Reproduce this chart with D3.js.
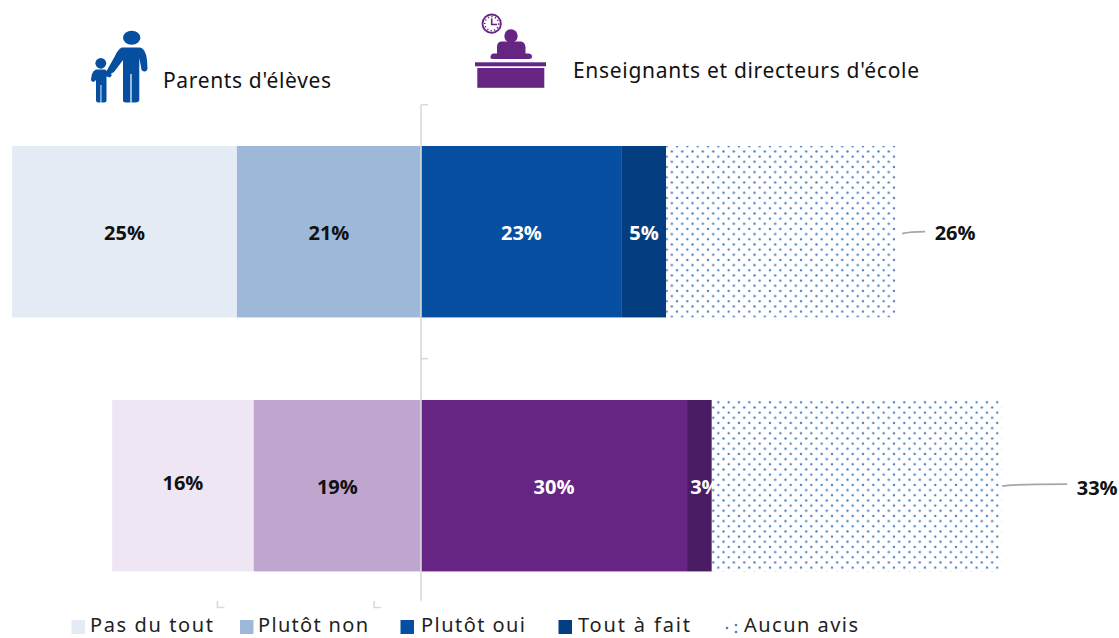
<!DOCTYPE html>
<html lang="fr">
<head>
<meta charset="utf-8">
<script src="https://cdn.jsdelivr.net/npm/d3@7"></script>
<style>
  html, body { margin: 0; padding: 0; background: #fff; overflow: hidden; }
  svg { display: block; font-family: "Noto Sans", "Open Sans", sans-serif; }
</style>
</head>
<body>
<svg id="chart" width="1119" height="638"></svg>
<script>
const rows = ["Parents d'élèves", "Enseignants et directeurs d'école"];
const categories = ["Pas du tout", "Plutôt non", "Plutôt oui", "Tout à fait", "Aucun avis"];
const parentsValues = [25.4, 20.8, 22.7, 5.0, 26.1];
const teachersValues = [16.0, 18.9, 30.06, 2.8, 32.7];
const parentColors = ["#e4ebf4", "#9db8d8", "#054ea0", "#053e80"];
const teacherColors = ["#efe6f3", "#c0a6ce", "#662483", "#4a1c64"];
const legendColors = ["#e4ebf4", "#9db8d8", "#054ea0", "#053e80"];
const cornerMarks = [-23, -5.3];

const width = 1119;
const height = 638;
const DOT = "#2a6ab8";

const svg = d3.select("#chart");
const defs = svg.append("defs");

// dot fill, the phase differs a bit between the two bars
function dotPattern(id, ox, oy) {
  const p = defs.append("pattern")
    .attr("id", id)
    .attr("patternUnits", "userSpaceOnUse")
    .attr("x", ox)
    .attr("y", oy)
    .attr("width", 10.33)
    .attr("height", 10.33);
  [[0, 0], [5.165, 5.165], [10.33, 0], [0, 10.33], [10.33, 10.33]].forEach(c => {
    p.append("circle").attr("cx", c[0]).attr("cy", c[1]).attr("r", 1.2).attr("fill", DOT).attr("opacity", 0.85);
  });
}
dotPattern("dots0", 666.7, 146.3);
dotPattern("dots1", 728.7, 402.3);

const x = d3.scaleLinear().domain([-40, 70]).range([67, 1040.5]);
const y = d3.scaleBand().domain(rows).range([104.7, 612.7]).paddingInner(0.325).paddingOuter(0.1625);

const series = rows.map((row, i) => {
  const values = i === 0 ? parentsValues : teachersValues;
  const colors = i === 0 ? parentColors : teacherColors;
  const start = -(values[0] + values[1]);
  const segs = [];
  let pos = start;
  values.forEach((v, j) => {
    segs.push({ row, i, j, v, x0: pos, x1: pos + v, color: colors[j] });
    pos += v;
  });
  return segs;
});
const segments = series.flat();
const solid = segments.filter(d => d.j < 4);
const dotted = segments.filter(d => d.j === 4);

const g = svg.append("g");

g.selectAll("rect.solid")
  .data(solid)
  .join("rect")
  .attr("class", "solid")
  .attr("x", d => x(d.x0))
  .attr("y", d => y(d.row))
  .attr("width", d => x(d.x1) - x(d.x0))
  .attr("height", y.bandwidth())
  .attr("fill", d => d.color);

// labels inside the bars, nudges only for the ones off centre
const nudge = { "1-0": [0, -2.5], "1-1": [0, 1], "1-2": [0, 1], "1-3": [5.5, 1] };
g.selectAll("text.inside")
  .data(solid)
  .join("text")
  .attr("class", "inside")
  .attr("x", d => (x(d.x0) + x(d.x1)) / 2 + (nudge[d.i + "-" + d.j] || [0, 0])[0])
  .attr("y", d => y(d.row) + y.bandwidth() / 2 + (nudge[d.i + "-" + d.j] || [0, 1])[1] + 7)
  .attr("text-anchor", "middle")
  .attr("fill", d => d.j >= 2 ? "#fff" : "#111")
  .style("font-family", "'Open Sans', sans-serif")
  .style("font-size", "20px")
  .style("font-weight", "bold")
  .text(d => d3.format(".0f")(d.v) + "%");

// white under the dots so the 3% gets cut by the last segment
g.selectAll("rect.blank")
  .data(dotted)
  .join("rect")
  .attr("class", "blank")
  .attr("x", d => x(d.x0))
  .attr("y", d => y(d.row))
  .attr("width", d => x(d.x1) - x(d.x0))
  .attr("height", y.bandwidth())
  .attr("fill", "#fff");

g.selectAll("rect.dotted")
  .data(dotted)
  .join("rect")
  .attr("class", "dotted")
  .attr("x", d => x(d.x0))
  .attr("y", d => y(d.row))
  .attr("width", d => x(d.x1) - x(d.x0))
  .attr("height", y.bandwidth())
  .attr("fill", d => `url(#dots${d.i})`);

// leader lines and outside labels
const leaderLen = [23, 65];
g.selectAll("path.leader")
  .data(dotted)
  .join("path")
  .attr("class", "leader")
  .attr("d", d => {
    const sx = x(d.x1) + (d.i === 0 ? 5 : 1);
    const sy = y(d.row) + y.bandwidth() / 2 + (d.i === 0 ? 2 : 0.5);
    const ex = sx + leaderLen[d.i];
    return `M${sx},${sy}Q${sx + 8},${sy - 2} ${ex},${sy - 2}`;
  })
  .attr("fill", "none")
  .attr("stroke", "#a6a6a6")
  .attr("stroke-width", 1.8);

g.selectAll("text.outside")
  .data(dotted)
  .join("text")
  .attr("class", "outside")
  .attr("x", d => x(d.x1) + (d.i === 0 ? 58 : 96))
  .attr("y", d => y(d.row) + y.bandwidth() / 2 + (d.i === 0 ? 8 : 9))
  .attr("text-anchor", "middle")
  .attr("fill", "#111")
  .style("font-family", "'Open Sans', sans-serif")
  .style("font-size", "20px")
  .style("font-weight", "bold")
  .text(d => d3.format(".0f")(d.v) + "%");

// centre axis with its stray ticks
const AXIS = "#d9d9d9";
const axisG = svg.append("g").attr("stroke", AXIS).attr("fill", "none");
axisG.append("line")
  .attr("x1", x(0)).attr("x2", x(0))
  .attr("y1", y.range()[0]).attr("y2", y.range()[1] - 12)
  .attr("stroke-width", 1.6);
[y.range()[0], y.range()[0] + y.step()].forEach(t => {
  axisG.append("line")
    .attr("x1", x(0)).attr("x2", x(0) + 7)
    .attr("y1", t).attr("y2", t)
    .attr("stroke-width", 1.6);
});
cornerMarks.forEach(v => {
  axisG.append("path")
    .attr("d", `M${x(v)},601V607.5H${x(v) + 7}`)
    .attr("stroke-width", 1.6);
});

// headers
svg.append("text")
  .attr("x", 163).attr("y", 88)
  .attr("textLength", 168).attr("lengthAdjust", "spacing")
  .attr("fill", "#111")
  .style("font-size", "21px")
  .text(rows[0]);
svg.append("text")
  .attr("x", 573).attr("y", 78)
  .attr("textLength", 346).attr("lengthAdjust", "spacing")
  .attr("fill", "#111")
  .style("font-size", "21px")
  .text(rows[1]);

// parent and child icon
const blue = "#054ea0";
const parent = svg.append("g").attr("fill", blue).attr("stroke", "none");
parent.append("ellipse").attr("cx", 131.7).attr("cy", 37.7).attr("rx", 8.7).attr("ry", 7);
parent.append("path").attr("d", "M122,47.5H140Q146,49 147,60L147.5,68.5Q147,72 144,71.5Q141,71 141,67L139.3,58V100Q139,102.5 135,102.5H125.5Q123,102.5 123,100V60L114,72L109,75Q106,75 106,72L115,56Q118,49 122,47.5Z");
parent.append("rect").attr("x", 130.4).attr("y", 74).attr("width", 1.2).attr("height", 29).attr("fill", "#fff");
parent.append("circle").attr("cx", 100.8).attr("cy", 63.3).attr("r", 5.4);
parent.append("path").attr("d", "M96,69.5H105L109,73L112,75L110,77.5L106.5,76.5V100Q106.5,102.5 104,102.5H98Q96,102.5 96,100V80L94.5,81.5Q91,82.5 91,79L92,74Q93,70.5 96,69.5Z");
parent.append("rect").attr("x", 100.5).attr("y", 85).attr("width", 0.9).attr("height", 18).attr("fill", "#fff");

// teacher at desk icon
const purple = "#662483";
const teacher = svg.append("g");
teacher.append("circle").attr("cx", 491.7).attr("cy", 23.7).attr("r", 9.2).attr("fill", "#fff").attr("stroke", purple).attr("stroke-width", 1.8);
teacher.append("circle").attr("cx", 491.7).attr("cy", 23.7).attr("r", 7).attr("fill", "none").attr("stroke", purple).attr("stroke-width", 1.6).attr("stroke-dasharray", "1.2 2.4");
teacher.append("path").attr("d", "M491.7,18.5V24.5H497").attr("fill", "none").attr("stroke", purple).attr("stroke-width", 1.6);
teacher.append("circle").attr("cx", 511).attr("cy", 36).attr("r", 6.7).attr("fill", purple);
teacher.append("path").attr("d", "M501,41.5H521Q525,42 525.5,47V53.5H529Q532,54 532,56.5Q532,59 529,59H493Q490,59 490.5,56.5Q491,54 493,53.5H497V47Q497,42 501,41.5Z").attr("fill", purple);
teacher.append("rect").attr("x", 475).attr("y", 62.3).attr("width", 71).attr("height", 4).attr("fill", purple);
teacher.append("rect").attr("x", 477.3).attr("y", 68).attr("width", 67).attr("height", 19.8).attr("fill", purple);

// legend, sits just inside the bottom edge of the page
const legendX = [71.5, 240, 400.5, 558.5];
const legendText = [[90, 123], [258, 110], [421, 104], [578, 112], [744, 114]];
const legend = svg.append("g");
legend.selectAll("rect")
  .data(legendColors)
  .join("rect")
  .attr("x", (d, i) => legendX[i])
  .attr("y", 620)
  .attr("width", 13.5)
  .attr("height", 14)
  .attr("fill", d => d);
[[727, 628], [736, 625], [736, 632]].forEach(c => {
  legend.append("circle").attr("cx", c[0]).attr("cy", c[1]).attr("r", 1.3).attr("fill", DOT).attr("opacity", 0.85);
});
legend.selectAll("text")
  .data(categories)
  .join("text")
  .attr("x", (d, i) => legendText[i][0])
  .attr("y", 632)
  .attr("textLength", (d, i) => legendText[i][1])
  .attr("lengthAdjust", "spacing")
  .attr("fill", "#222")
  .style("font-size", "20px")
  .text(d => d);
</script>
</body>
</html>
